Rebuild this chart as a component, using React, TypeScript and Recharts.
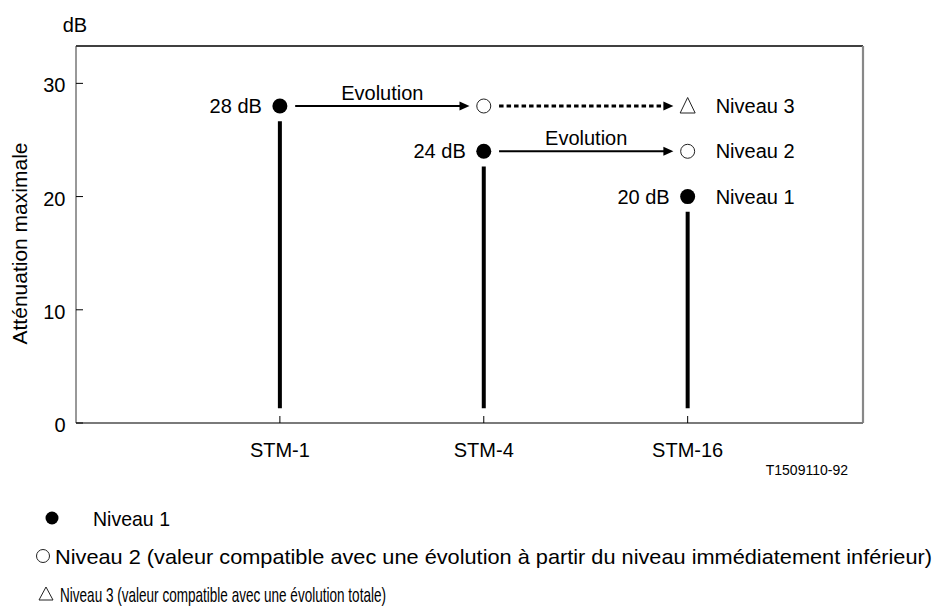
import React from 'react';
import { ComposedChart, XAxis, YAxis, Scatter, ReferenceLine, Label } from 'recharts';

// ---------- data ----------
const categories = ['STM-1', 'STM-4', 'STM-16'];
const categoryX = [1, 2, 3];
const xDomain: [number, number] = [0, 3.86];
const yDomain: [number, number] = [0, 33.3];
const yTicks = [0, 10, 20, 30];

const niveau1 = [28, 24, 20];
const niveau2: (number | null)[] = [null, 28, 24];
const niveau3: (number | null)[] = [null, null, 28];

const stemBottom = 1.3;
const stemGap = 1.35;

const arrowFrom = [0, 1, 1];
const arrowTo = [1, 2, 2];
const arrowValue = [28, 28, 24];
const arrowDotted = [false, true, false];
const arrowLabel = ['Evolution', '', 'Evolution'];

const levelNames = ['Niveau 1', 'Niveau 2', 'Niveau 3'];
const legendTexts = [
  'Niveau 1',
  'Niveau 2 (valeur compatible avec une évolution à partir du niveau immédiatement inférieur)',
  'Niveau 3 (valeur compatible avec une évolution totale)',
];
const axisTitle = 'Atténuation maximale';
const unitLabel = 'dB';
const figureRef = 'T1509110-92';

// ---------- derived ----------
const startGap = 0.075;
const tipGap = 0.07;
const lineBack = 0.03;

const level1Points = categoryX.map((x, i) => ({
  x,
  y: niveau1[i],
  label: `${niveau1[i]} dB`,
  name: i === categoryX.length - 1 ? levelNames[0] : '',
}));
const level2Points = categoryX
  .map((x, i) => ({ x, y: niveau2[i], name: i === categoryX.length - 1 ? levelNames[1] : '' }))
  .filter((p) => p.y !== null);
const level3Points = categoryX
  .map((x, i) => ({ x, y: niveau3[i], name: i === categoryX.length - 1 ? levelNames[2] : '' }))
  .filter((p) => p.y !== null);

const arrows = arrowFrom.map((f, i) => ({
  x1: categoryX[f] + startGap,
  x2: categoryX[arrowTo[i]] - tipGap,
  y: arrowValue[i],
  dotted: arrowDotted[i],
  label: arrowLabel[i],
}));
const arrowTips = arrows.map((a) => ({ x: a.x2, y: a.y }));
const evolutionLabels = arrows
  .filter((a) => a.label)
  .map((a) => ({ x: (a.x1 + a.x2) / 2, y: a.y, text: a.label }));

const FONT = '"Liberation Sans", Arial, Helvetica, sans-serif';

// ---------- shapes ----------
const FilledDot = (p: any) => (
  <g>
    <circle cx={p.cx} cy={p.cy} r={7.5} fill="#000" />
    <text x={p.cx - 18} y={p.cy + 7} textAnchor="end" fontSize={20} fontFamily={FONT} fill="#000">
      {p.payload.label}
    </text>
    {p.payload.name ? (
      <text x={p.cx + 28} y={p.cy + 7} fontSize={20} fontFamily={FONT} fill="#000">
        {p.payload.name}
      </text>
    ) : null}
  </g>
);

const OpenDot = (p: any) => (
  <g>
    <circle cx={p.cx} cy={p.cy} r={7} fill="#fff" stroke="#222" strokeWidth={1} />
    {p.payload.name ? (
      <text x={p.cx + 28} y={p.cy + 7} fontSize={20} fontFamily={FONT} fill="#000">
        {p.payload.name}
      </text>
    ) : null}
  </g>
);

const TriangleDot = (p: any) => (
  <g>
    <polygon
      points={`${p.cx},${p.cy - 8.5} ${p.cx - 7.5},${p.cy + 7} ${p.cx + 7.5},${p.cy + 7}`}
      fill="#fff"
      stroke="#222"
      strokeWidth={1}
    />
    {p.payload.name ? (
      <text x={p.cx + 28} y={p.cy + 7} fontSize={20} fontFamily={FONT} fill="#000">
        {p.payload.name}
      </text>
    ) : null}
  </g>
);

const ArrowHead = (p: any) => (
  <polygon points={`${p.cx - 10},${p.cy - 4.5} ${p.cx},${p.cy} ${p.cx - 10},${p.cy + 4.5}`} fill="#000" />
);

const EvolutionText = (p: any) => (
  <text x={p.cx} y={p.cy - 6} textAnchor="middle" fontSize={20} fontFamily={FONT} fill="#000">
    {p.payload.text}
  </text>
);

const XTick = (p: any) => {
  const idx = categoryX.indexOf(p.payload.value);
  return (
    <g>
      <line x1={p.x} x2={p.x} y1={p.y - 7} y2={p.y} stroke="#000" strokeWidth={1} />
      <text x={p.x} y={p.y + 34} textAnchor="middle" fontSize={20} fontFamily={FONT} fill="#000">
        {idx >= 0 ? categories[idx] : ''}
      </text>
    </g>
  );
};

const YTick = (p: any) => (
  <g>
    <line x1={p.x} x2={p.x + 7} y1={p.y} y2={p.y} stroke="#000" strokeWidth={1} />
    <text x={p.x - 10.5} y={p.y + 9} textAnchor="end" fontSize={20} fontFamily={FONT} fill="#000">
      {p.payload.value}
    </text>
  </g>
);

const YTitle = (props: any) => {
  const vb = props.viewBox;
  const cx = vb.x + 10.5;
  const cy = vb.y + vb.height / 2 + 9;
  return (
    <text
      x={cx}
      y={cy}
      transform={`rotate(-90 ${cx} ${cy})`}
      textAnchor="middle"
      fontSize={21}
      fontFamily={FONT}
      fill="#000"
    >
      {axisTitle}
    </text>
  );
};

const UnitTitle = (props: any) => {
  const vb = props.viewBox;
  return (
    <text x={vb.x + vb.width - 13.3} y={vb.y - 14} fontSize={20} fontFamily={FONT} fill="#000">
      {unitLabel}
    </text>
  );
};

const RefTitle = (props: any) => {
  const vb = props.viewBox;
  return (
    <text x={vb.x + vb.width - 15} y={vb.y + 52} textAnchor="end" fontSize={14} fontFamily={FONT} fill="#000">
      {figureRef}
    </text>
  );
};

// legend layout (styles only)
const legendRowY = [518, 556, 594];
const legendTextX = [93, 55, 60];
const legendTextW = [77, 877, 326];
const legendIconX = [52, 43, 46];

const LegendIcon = ({ kind, cx, cy }: { kind: number; cx: number; cy: number }) => {
  if (kind === 0) return <circle cx={cx} cy={cy} r={6.5} fill="#000" />;
  if (kind === 1) return <circle cx={cx} cy={cy} r={6.5} fill="#fff" stroke="#222" strokeWidth={1} />;
  return (
    <polygon
      points={`${cx},${cy - 7} ${cx - 7},${cy + 6} ${cx + 7},${cy + 6}`}
      fill="#fff"
      stroke="#222"
      strokeWidth={1}
    />
  );
};

export default function App() {
  return (
    <div style={{ position: 'absolute', left: 0, top: 0, width: 934, height: 608, background: '#fff' }}>
      <ComposedChart
        width={934}
        height={608}
        margin={{ top: 46, right: 71, bottom: 155, left: 16 }}
        style={{ position: 'absolute', left: 0, top: 0 }}
      >
        <XAxis
          type="number"
          dataKey="x"
          domain={xDomain}
          ticks={categoryX}
          allowDataOverflow
          height={30}
          tickSize={0}
          tickMargin={0}
          tick={<XTick />}
          tickLine={false}
          axisLine={{ stroke: '#7a7a7a', strokeWidth: 2 }}
          interval={0}
        >
          <Label content={<RefTitle />} />
        </XAxis>
        <YAxis
          type="number"
          dataKey="y"
          domain={yDomain}
          ticks={yTicks}
          allowDataOverflow
          width={60}
          tickSize={0}
          tickMargin={0}
          tick={<YTick />}
          tickLine={false}
          axisLine={{ stroke: '#333', strokeWidth: 1 }}
          interval={0}
        >
          <Label content={<YTitle />} />
          <Label content={<UnitTitle />} />
        </YAxis>

        <ReferenceLine y={yDomain[1]} stroke="#000" strokeWidth={1.3} />
        <ReferenceLine x={xDomain[1]} stroke="#888" strokeWidth={2.2} />

        {categoryX.map((x, i) => (
          <ReferenceLine
            key={`stem-${i}`}
            segment={[
              { x, y: stemBottom },
              { x, y: niveau1[i] - stemGap },
            ]}
            stroke="#000"
            strokeWidth={4}
          />
        ))}

        {arrows.map((a, i) => (
          <ReferenceLine
            key={`arrow-${i}`}
            segment={[
              { x: a.x1, y: a.y },
              { x: a.x2 - lineBack, y: a.y },
            ]}
            stroke="#000"
            strokeWidth={a.dotted ? 3 : 2}
            strokeDasharray={a.dotted ? '4.5 3' : undefined}
          />
        ))}

        <Scatter data={arrowTips} shape={ArrowHead} isAnimationActive={false} />
        <Scatter data={evolutionLabels} shape={EvolutionText} isAnimationActive={false} />
        <Scatter data={level1Points} shape={FilledDot} isAnimationActive={false} />
        <Scatter data={level2Points} shape={OpenDot} isAnimationActive={false} />
        <Scatter data={level3Points} shape={TriangleDot} isAnimationActive={false} />
      </ComposedChart>

      <svg
        width={934}
        height={608}
        style={{ position: 'absolute', left: 0, top: 0, pointerEvents: 'none' }}
      >
        {legendTexts.map((t, i) => (
          <g key={i}>
            <LegendIcon kind={i} cx={legendIconX[i]} cy={legendRowY[i]} />
            <text
              x={legendTextX[i]}
              y={legendRowY[i] + 7.5}
              fontSize={21}
              fontFamily={FONT}
              fill="#000"
              textLength={legendTextW[i]}
              lengthAdjust="spacingAndGlyphs"
            >
              {t}
            </text>
          </g>
        ))}
      </svg>
    </div>
  );
}
